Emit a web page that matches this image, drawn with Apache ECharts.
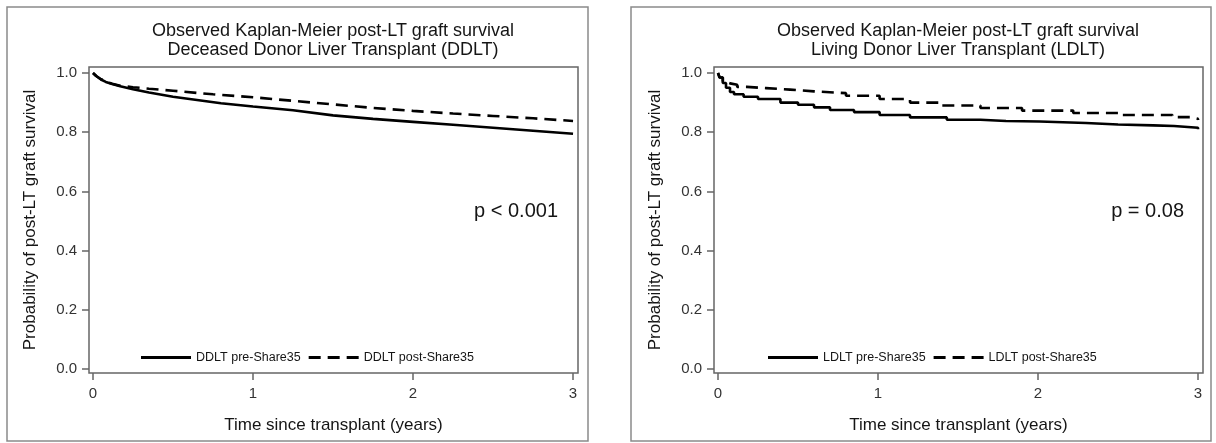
<!DOCTYPE html>
<html>
<head>
<meta charset="utf-8">
<script src="https://cdn.jsdelivr.net/npm/echarts@6/dist/echarts.min.js"></script>
<style>
html,body{margin:0;padding:0;background:#fff;}
#chart{width:1216px;height:443px;}
</style>
</head>
<body>
<div id="chart"></div>
<script>
// ---- Data ----
const xTicks = [0, 1, 2, 3];
const yTicks = [0, 0.2, 0.4, 0.6, 0.8, 1.0];

const panelTitles = [
  "Observed Kaplan-Meier post-LT graft survival\nDeceased Donor Liver Transplant (DDLT)",
  "Observed Kaplan-Meier post-LT graft survival\nLiving Donor Liver Transplant (LDLT)"
];
const pValues = ["p < 0.001", "p = 0.08"];
const legendNames = [
  ["DDLT pre-Share35", "DDLT post-Share35"],
  ["LDLT pre-Share35", "LDLT post-Share35"]
];

const ddltPreT = [0, 0.02, 0.05, 0.08, 0.12, 0.17, 0.25, 0.35, 0.5, 0.65, 0.8, 1.0, 1.25, 1.5, 1.75, 2.0, 2.25, 2.5, 2.75, 3.0];
const ddltPreS = [1.0, 0.99, 0.978, 0.97, 0.963, 0.955, 0.945, 0.934, 0.92, 0.909, 0.898, 0.887, 0.874, 0.857, 0.845, 0.835, 0.825, 0.815, 0.805, 0.795];

const ddltPostT = [0, 0.02, 0.05, 0.08, 0.12, 0.17, 0.25, 0.35, 0.5, 0.75, 1.0, 1.25, 1.5, 1.75, 2.0, 2.25, 2.5, 2.75, 3.0];
const ddltPostS = [1.0, 0.99, 0.979, 0.971, 0.964, 0.957, 0.952, 0.947, 0.94, 0.928, 0.918, 0.906, 0.894, 0.882, 0.872, 0.863, 0.855, 0.847, 0.838];

const ldltPreT = [0, 0.01, 0.03, 0.05, 0.075, 0.1, 0.16, 0.25, 0.39, 0.5, 0.6, 0.7, 0.85, 1.01, 1.2, 1.43, 1.64, 1.8, 2.01, 2.3, 2.5, 2.72, 2.85, 3.0];
const ldltPreS = [1.0, 0.985, 0.966, 0.95, 0.936, 0.928, 0.92, 0.912, 0.9, 0.893, 0.884, 0.875, 0.868, 0.858, 0.85, 0.842, 0.838, 0.836, 0.831, 0.826, 0.823, 0.821, 0.815, 0.81];

const ldltPostT = [0, 0.01, 0.03, 0.05, 0.075, 0.12, 0.18, 0.3, 0.45, 0.6, 0.8, 1.01, 1.2, 1.39, 1.64, 1.9, 2.22, 2.5, 2.84, 2.95, 3.0];
const ldltPostS = [1.0, 0.985, 0.97, 0.965, 0.96, 0.953, 0.949, 0.944, 0.938, 0.932, 0.923, 0.912, 0.9, 0.89, 0.882, 0.873, 0.865, 0.858, 0.851, 0.845, 0.841];

// ---- Build chart ----
const FONT = "'Liberation Sans', Arial, sans-serif";
const TXT = '#151515';
const AX = '#666';
const zip = (t, s) => t.map((v, i) => [v, s[i]]);

const gridDefs = [
  {left: 89, top: 67, width: 489, height: 306},
  {left: 714, top: 67, width: 489, height: 306}
];
const xMin = -0.025, xMax = 3.031;
const yMin = -0.0135, yMax = 1.0203;

const chart = echarts.init(document.getElementById('chart'), null, {renderer: 'canvas'});

const grids = gridDefs.map(g => Object.assign({show: true, borderColor: AX, borderWidth: 1.5, backgroundColor: 'transparent', containLabel: false}, g));

const xAxes = [0, 1].map(i => ({
  type: 'value', gridIndex: i, min: xMin, max: xMax,
  name: 'Time since transplant (years)', nameLocation: 'middle', nameGap: 44,
  nameTextStyle: {fontFamily: FONT, fontSize: 17, color: TXT},
  axisLine: {show: false, onZero: false},
  axisTick: {show: true, inside: false, length: 7, lineStyle: {color: AX, width: 1.5}, customValues: xTicks},
  axisLabel: {show: true, margin: 13, fontFamily: FONT, fontSize: 15, color: '#333', customValues: xTicks, formatter: v => String(Math.round(v))},
  splitLine: {show: false}
}));

const yAxes = [0, 1].map(i => ({
  type: 'value', gridIndex: i, min: yMin, max: yMax,
  name: 'Probability of post-LT graft survival', nameLocation: 'middle', nameGap: 50,
  nameTextStyle: {fontFamily: FONT, fontSize: 17, color: TXT},
  axisLine: {show: false, onZero: false},
  axisTick: {show: true, inside: false, length: 7, lineStyle: {color: AX, width: 1.5}, customValues: yTicks},
  axisLabel: {show: true, margin: 12, fontFamily: FONT, fontSize: 15, color: '#333', customValues: yTicks, formatter: v => v.toFixed(1)},
  splitLine: {show: false}
}));

const solid = {color: '#000', width: 2.6, type: 'solid'};
const dashed = {color: '#000', width: 2.6, type: [12, 7]};

function mk(name, idx, data, ls, step) {
  return {
    name: name, type: 'line', xAxisIndex: idx, yAxisIndex: idx,
    data: data, showSymbol: false, symbol: 'none', step: step || false,
    color: '#000', lineStyle: ls, itemStyle: {color: '#000'}, clip: true, silent: true, z: 3
  };
}

const series = [
  mk(legendNames[0][0], 0, zip(ddltPreT, ddltPreS), solid),
  mk(legendNames[0][1], 0, zip(ddltPostT, ddltPostS), dashed),
  mk(legendNames[1][0], 1, zip(ldltPreT, ldltPreS), solid, 'end'),
  mk(legendNames[1][1], 1, zip(ldltPostT, ldltPostS), dashed, 'end')
];

const ICON_SOLID = 'path://M0,0h50v3h-50z';
const ICON_DASH = 'path://M0,0h12v3h-12zM19,0h12v3h-12zM38,0h12v3h-12z';

const legendLefts = [141, 768];
const legends = [0, 1].map(i => ({
  data: [{name: legendNames[i][0], icon: ICON_SOLID}, {name: legendNames[i][1], icon: ICON_DASH}],
  left: legendLefts[i], top: 351, orient: 'horizontal',
  itemWidth: 50, itemHeight: 3, itemGap: 8, padding: 0, selectedMode: false,
  itemStyle: {color: '#000'},
  textStyle: {fontFamily: FONT, fontSize: 12.5, color: TXT}
}));

const titleCenters = [333, 958];
const titles = [0, 1].map(i => ({
  text: panelTitles[i], left: titleCenters[i], top: 22, textAlign: 'center', padding: 0,
  textStyle: {fontFamily: FONT, fontSize: 18, fontWeight: 'normal', color: TXT, lineHeight: 19}
}));

const pRight = [558, 1184];
const graphics = [
  {type: 'rect', shape: {x: 7, y: 7, width: 581, height: 434}, style: {fill: 'none', stroke: '#8a8a8a', lineWidth: 1.5}, silent: true},
  {type: 'rect', shape: {x: 631, y: 7, width: 580, height: 434}, style: {fill: 'none', stroke: '#8a8a8a', lineWidth: 1.5}, silent: true},
  {type: 'text', x: pRight[0], y: 211, style: {text: pValues[0], textAlign: 'right', textVerticalAlign: 'middle', font: '20px ' + FONT, fill: TXT}, silent: true},
  {type: 'text', x: pRight[1], y: 211, style: {text: pValues[1], textAlign: 'right', textVerticalAlign: 'middle', font: '20px ' + FONT, fill: TXT}, silent: true}
];

chart.setOption({
  animation: false,
  backgroundColor: '#fff',
  title: titles,
  legend: legends,
  grid: grids,
  xAxis: xAxes,
  yAxis: yAxes,
  series: series,
  graphic: graphics
});
</script>
</body>
</html>
